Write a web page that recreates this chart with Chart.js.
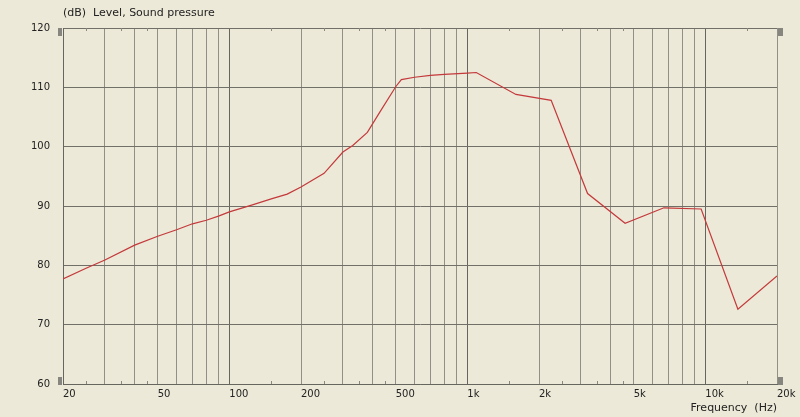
<!DOCTYPE html>
<html>
<head>
<meta charset="utf-8">
<script src="https://cdn.jsdelivr.net/npm/chart.js@4.4.0/dist/chart.umd.min.js"></script>
<style>
  html, body { margin: 0; padding: 0; background: #ece9d8; }
</style>
</head>
<body>
<canvas id="myChart" width="800" height="417"></canvas>
<script>
// sound pressure level vs frequency
var freqs  = [20, 25, 30, 40, 50, 60, 70, 80, 90, 100, 125, 150, 175, 200, 250, 300, 330, 380, 430, 500, 528, 600, 700, 800, 1000, 1090, 1600, 2250, 3200, 4600, 6700, 9600, 13700, 20000];
var levels = [77.7, 79.5, 80.9, 83.4, 84.9, 86.0, 87.0, 87.6, 88.3, 89.0, 90.2, 91.2, 92.0, 93.2, 95.5, 99.1, 100.2, 102.4, 105.9, 110.1, 111.3, 111.7, 112.0, 112.2, 112.4, 112.5, 108.8, 107.8, 92.1, 87.1, 89.7, 89.5, 72.6, 78.2];

// axis ticks
var xGrid = [20, 30, 40, 50, 60, 70, 80, 90, 100, 200, 300, 400, 500, 600, 700, 800, 900,
             1000, 2000, 3000, 4000, 5000, 6000, 7000, 8000, 9000, 10000, 20000];
var xMinor = [25, 35, 45, 150, 250, 350, 450, 1500, 2500, 3500, 4500, 15000];
var xTickValues = [20, 50, 100, 200, 500, 1000, 2000, 5000, 10000, 20000];
var xTickLabels = ['20', '50', '100', '200', '500', '1k', '2k', '5k', '10k', '20k'];
var xDecades = [100, 1000, 10000];
var yTitle = '(dB)  Level, Sound pressure';
var xTitle = 'Frequency  (Hz)';

var bg = '#ece9d8';
var textColor = '#222222';

var bgPlugin = {
  id: 'bg',
  beforeDraw: function (chart) {
    var c = chart.ctx;
    c.save();
    c.fillStyle = bg;
    c.fillRect(0, 0, chart.width, chart.height);
    c.restore();
  }
};

// minor tick marks, corner handles and the top-left title
var decoPlugin = {
  id: 'deco',
  afterDraw: function (chart) {
    var c = chart.ctx;
    var a = chart.chartArea;
    var xs = chart.scales.x;
    c.save();
    c.strokeStyle = '#8a897f';
    c.lineWidth = 1;
    xMinor.forEach(function (v) {
      var px = Math.round(xs.getPixelForValue(v)) + 0.5;
      c.beginPath();
      c.moveTo(px, a.top);
      c.lineTo(px, a.top + 3);
      c.moveTo(px, a.bottom - 3);
      c.lineTo(px, a.bottom);
      c.stroke();
    });
    c.fillStyle = '#86867e';
    c.fillRect(a.left - 5, a.top, 4, 8);
    c.fillRect(a.left - 5, a.bottom - 7, 4, 8);
    c.fillRect(a.right + 1, a.top, 5, 8);
    c.fillRect(a.right + 1, a.bottom - 7, 5, 8);

    c.fillStyle = textColor;
    c.font = '11px "DejaVu Sans"';
    c.textAlign = 'left';
    c.textBaseline = 'middle';
    c.fillText(yTitle, a.left, 13);
    c.restore();
  }
};

var points = freqs.map(function (f, i) { return { x: f, y: levels[i] }; });

var ctx = document.getElementById('myChart').getContext('2d');
var chart = new Chart(ctx, {
  type: 'line',
  data: {
    datasets: [{
      data: points,
      borderColor: '#c4393b',
      borderWidth: 1.2,
      pointRadius: 0,
      tension: 0,
      fill: false
    }]
  },
  options: {
    responsive: false,
    animation: false,
    layout: { padding: { left: 0, right: 23, top: 28, bottom: 0 } },
    plugins: {
      legend: { display: false },
      tooltip: { enabled: false }
    },
    scales: {
      x: {
        type: 'logarithmic',
        min: 20,
        max: 20000,
        afterBuildTicks: function (s) {
          s.ticks = xGrid.map(function (v) { return { value: v }; });
        },
        afterFit: function (s) { s.height = 33; },
        ticks: {
          autoSkip: false,
          maxRotation: 0,
          minRotation: 0,
          align: 'start',
          padding: 4,
          color: textColor,
          font: { family: 'DejaVu Sans', size: 10 },
          callback: function (v) {
            var i = xTickValues.indexOf(v);
            return i < 0 ? '' : xTickLabels[i];
          }
        },
        grid: {
          drawTicks: false,
          lineWidth: 1,
          color: function (c) {
            var v = c.tick && c.tick.value;
            return xDecades.indexOf(v) >= 0 ? '#66665e' : '#928f86';
          }
        },
        border: { display: true, color: '#66665e' },
        title: {
          display: true,
          text: xTitle,
          align: 'end',
          color: textColor,
          font: { family: 'DejaVu Sans', size: 11, lineHeight: 1.2 },
          padding: { top: 0, bottom: 2.4 }
        }
      },
      y: {
        min: 60,
        max: 120,
        afterFit: function (s) { s.width = 63; },
        ticks: {
          stepSize: 10,
          padding: 13,
          color: textColor,
          font: { family: 'DejaVu Sans', size: 10 }
        },
        grid: { drawTicks: false, color: '#707068', lineWidth: 1 },
        border: { display: true, color: '#66665e' }
      }
    }
  },
  plugins: [bgPlugin, decoPlugin]
});
</script>
</body>
</html>
